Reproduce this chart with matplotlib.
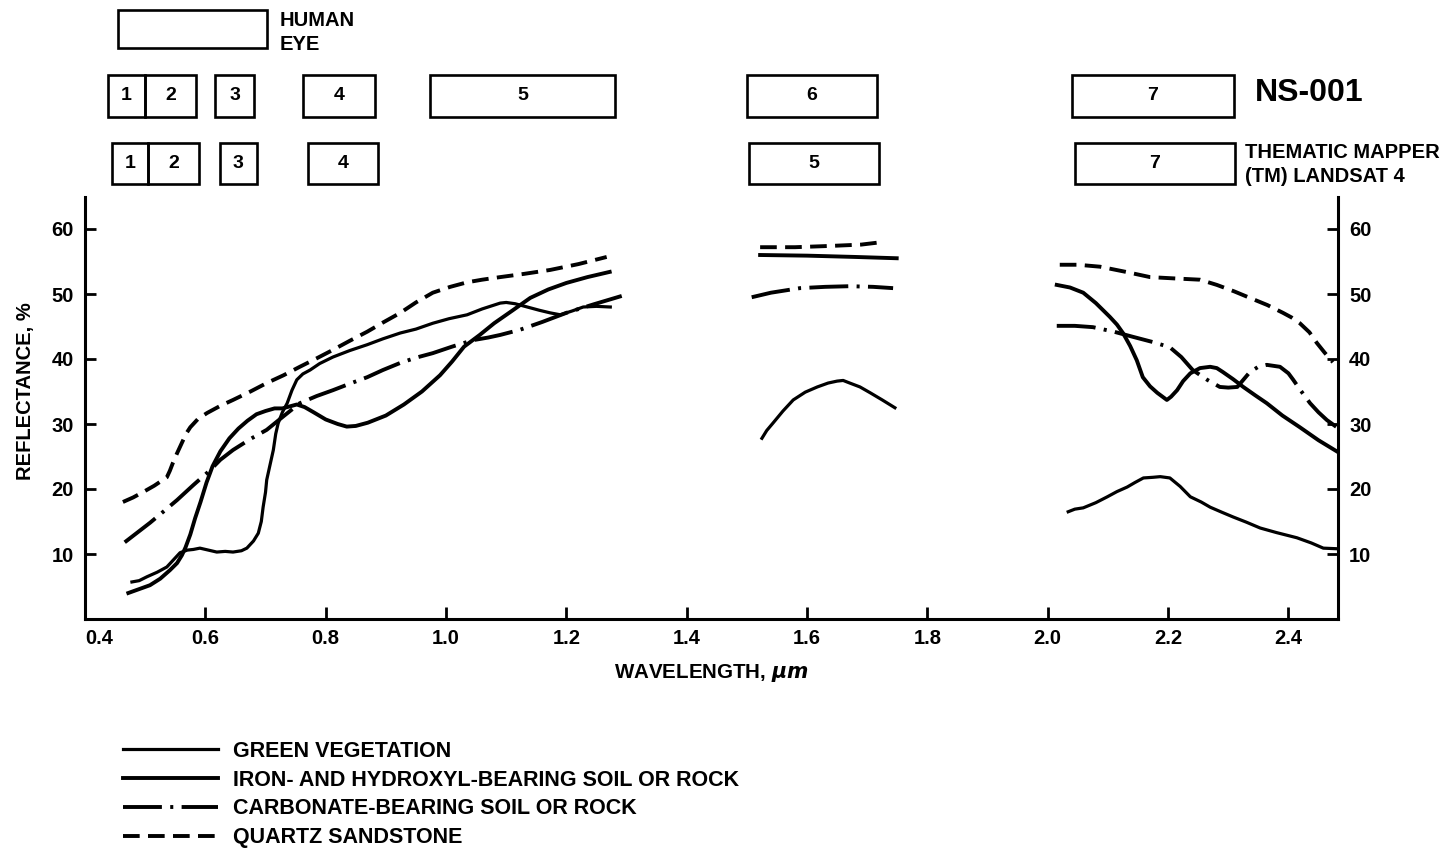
import matplotlib
matplotlib.use("Agg")
import matplotlib.pyplot as plt
import numpy as np
from matplotlib.patches import Rectangle

# ----------------------
# fonts / style
# ----------------------
plt.rcParams['font.family'] = ['Liberation Sans', 'DejaVu Sans']
plt.rcParams['font.weight'] = 'bold'
plt.rcParams['lines.scale_dashes'] = False
plt.rcParams['mathtext.default'] = 'it'

nan = np.nan

# ----------------------
# data; nan = gap in spectrum
# ----------------------
veg_x = [0.478, 0.49, 0.503, 0.52, 0.536, 0.548, 0.558, 0.570, 0.580, 0.591, 0.605, 0.619, 0.633,
         0.646, 0.660, 0.669, 0.680, 0.688, 0.693, 0.696, 0.700, 0.702, 0.707, 0.713, 0.717, 0.721,
         0.728, 0.736, 0.744, 0.752, 0.762, 0.774, 0.790, 0.812, 0.840, 0.869, 0.895, 0.924, 0.950,
         0.978, 1.005, 1.035, 1.060, 1.090, 1.100, 1.115, 1.135, 1.155, 1.173, 1.19, 1.21, 1.228,
         1.25, 1.273,
         nan,
         1.525, 1.533, 1.543, 1.56, 1.577, 1.597, 1.617, 1.635, 1.65, 1.66, 1.671, 1.688, 1.705,
         1.725, 1.746,
         nan,
         2.034, 2.045, 2.059, 2.08, 2.099, 2.115, 2.132, 2.145, 2.159, 2.175, 2.187, 2.203, 2.22,
         2.237, 2.255, 2.27, 2.29, 2.308, 2.33, 2.353, 2.38, 2.414, 2.438, 2.458, 2.483]
veg_y = [5.7, 5.9, 6.5, 7.2, 8.0, 9.2, 10.2, 10.6, 10.7, 10.9, 10.6, 10.3, 10.4,
         10.3, 10.5, 10.9, 12.0, 13.2, 15.0, 17.2, 19.5, 21.4, 23.5, 26.0, 28.5, 30.1,
         31.8, 33.2, 35.2, 36.8, 37.7, 38.3, 39.3, 40.3, 41.3, 42.2, 43.1, 44.0, 44.6,
         45.5, 46.2, 46.8, 47.7, 48.6, 48.7, 48.5, 48.0, 47.5, 47.1, 46.8, 47.4, 48.0,
         48.1, 48.0,
         nan,
         27.8, 29.0, 30.1, 32.0, 33.7, 34.9, 35.7, 36.3, 36.6, 36.7, 36.3, 35.7, 34.8,
         33.7, 32.5,
         nan,
         16.5, 16.9, 17.1, 17.9, 18.8, 19.6, 20.3, 21.0, 21.7, 21.8, 21.9, 21.7, 20.4,
         18.8, 18.0, 17.2, 16.4, 15.7, 14.9, 14.0, 13.3, 12.5, 11.7, 10.9, 10.8]

iron_x = [0.472, 0.49, 0.508, 0.525, 0.541, 0.553, 0.561, 0.567, 0.575, 0.583, 0.592, 0.602, 0.612,
          0.625, 0.64, 0.655, 0.67, 0.685, 0.70, 0.715, 0.728, 0.74, 0.752, 0.765, 0.78, 0.80,
          0.82, 0.835, 0.85, 0.87, 0.90, 0.93, 0.96, 0.99, 1.01, 1.03, 1.056, 1.08, 1.111, 1.14,
          1.17, 1.20, 1.235, 1.272,
          nan,
          1.522, 1.60, 1.68, 1.749,
          nan,
          2.015, 2.037, 2.059, 2.08, 2.103, 2.115, 2.125, 2.137, 2.148, 2.158, 2.17, 2.182, 2.198,
          2.205, 2.215, 2.225, 2.237, 2.253, 2.27, 2.281, 2.291, 2.308, 2.325, 2.345, 2.364, 2.39,
          2.419, 2.45, 2.482]
iron_y = [4.0, 4.6, 5.2, 6.2, 7.5, 8.6, 9.8, 11.0, 13.0, 15.5, 18.0, 21.0, 23.5,
          25.8, 27.8, 29.3, 30.5, 31.5, 32.0, 32.4, 32.4, 32.7, 33.0, 32.6, 31.8, 30.7,
          30.0, 29.6, 29.7, 30.2, 31.3, 33.0, 35.0, 37.5, 39.6, 41.9, 43.7, 45.5, 47.5, 49.4,
          50.7, 51.7, 52.6, 53.4,
          nan,
          56.0, 55.9, 55.7, 55.5,
          nan,
          51.4, 51.0, 50.2, 48.6, 46.5, 45.3, 44.0, 42.0, 39.8, 37.2, 35.8, 34.8, 33.7,
          34.2, 35.2, 36.6, 37.8, 38.6, 38.8, 38.6, 38.0, 36.9, 35.7, 34.4, 33.2, 31.3,
          29.5, 27.5, 25.7]

carb_x = [0.466, 0.487, 0.508, 0.53, 0.553, 0.58, 0.608, 0.625, 0.646, 0.675, 0.702, 0.73, 0.757,
          0.785, 0.812, 0.84, 0.869, 0.895, 0.924, 0.95, 0.978, 1.01, 1.045, 1.07, 1.09, 1.123,
          1.16, 1.20, 1.245, 1.292,
          nan,
          1.508, 1.54, 1.588, 1.63, 1.671, 1.71, 1.743,
          nan,
          2.015, 2.045, 2.075, 2.11, 2.142, 2.175, 2.203, 2.222, 2.241, 2.265, 2.286, 2.30, 2.315,
          2.326, 2.336, 2.35, 2.364, 2.386, 2.40, 2.408, 2.42, 2.436, 2.45, 2.464, 2.482]
carb_y = [11.8, 13.3, 14.8, 16.5, 18.3, 20.6, 22.9, 24.5, 26.0, 27.7, 29.1, 31.2, 33.2,
          34.3, 35.2, 36.2, 37.2, 38.3, 39.4, 40.2, 40.9, 41.9, 42.9, 43.3, 43.7, 44.5,
          45.7, 47.1, 48.4, 49.7,
          nan,
          49.5, 50.2, 50.9, 51.1, 51.2, 51.1, 50.9,
          nan,
          45.1, 45.1, 44.9, 44.2, 43.4, 42.6, 41.8, 40.3, 38.3, 36.8, 35.7, 35.6, 35.7,
          36.9, 38.0, 38.8, 39.1, 38.8, 37.8, 36.8, 35.2, 33.2, 31.8, 30.6, 29.4]

quartz_x = [0.463, 0.48, 0.496, 0.515, 0.536, 0.541, 0.546, 0.553, 0.561, 0.568, 0.575, 0.588,
            0.603, 0.625, 0.646, 0.675, 0.702, 0.73, 0.757, 0.785, 0.812, 0.84, 0.869, 0.895,
            0.924, 0.95, 0.978, 1.007, 1.035, 1.06, 1.09, 1.13, 1.173, 1.22, 1.267,
            nan,
            1.522, 1.58, 1.64, 1.69, 1.726,
            nan,
            2.02, 2.05, 2.087, 2.13, 2.17, 2.21, 2.253, 2.281, 2.31, 2.336, 2.365, 2.391, 2.405,
            2.419, 2.435, 2.447, 2.46, 2.474]
quartz_y = [18.0, 18.7, 19.5, 20.5, 21.8, 22.8, 24.0, 25.5, 27.1, 28.5, 29.5, 30.8,
            31.7, 32.8, 33.7, 35.0, 36.3, 37.5, 38.8, 40.1, 41.4, 42.8, 44.2, 45.6,
            47.1, 48.7, 50.2, 51.1, 51.8, 52.2, 52.6, 53.1, 53.7, 54.6, 55.7,
            nan,
            57.2, 57.2, 57.4, 57.6, 58.0,
            nan,
            54.5, 54.5, 54.2, 53.4, 52.6, 52.4, 52.2, 51.4, 50.4, 49.4, 48.3, 47.1, 46.4,
            45.5, 44.1, 42.5, 41.0, 39.5]

series_labels = ["GREEN VEGETATION",
                 "IRON- AND HYDROXYL-BEARING SOIL OR ROCK",
                 "CARBONATE-BEARING SOIL OR ROCK",
                 "QUARTZ SANDSTONE"]

x_ticks = [0.4, 0.6, 0.8, 1.0, 1.2, 1.4, 1.6, 1.8, 2.0, 2.2, 2.4]
y_ticks = [10, 20, 30, 40, 50, 60]

# band boxes (wavelength edges, as drawn)
eye_band = (0.455, 0.702)
ns_bands = [(0.438, 0.500, "1"), (0.500, 0.584, "2"), (0.616, 0.681, "3"), (0.762, 0.882, "4"),
            (0.973, 1.281, "5"), (1.500, 1.716, "6"), (2.040, 2.310, "7")]
tm_bands = [(0.445, 0.505, "1"), (0.505, 0.589, "2"), (0.624, 0.686, "3"), (0.771, 0.887, "4"),
            (1.504, 1.720, "5"), (2.045, 2.311, "7")]

# ----------------------
# figure
# ----------------------
W, H = 1451, 849
fig = plt.figure(figsize=(W / 100, H / 100), dpi=100)
ax = fig.add_axes([85 / W, 1 - 619 / H, 1253 / W, 422.5 / H])
xlim = (0.40, 2.4824)

lw = 2.8
ax.plot(veg_x, veg_y, color="black", lw=2.3, label=series_labels[0])
ax.plot(iron_x, iron_y, color="black", lw=lw, label=series_labels[1])
ax.plot(carb_x, carb_y, color="black", lw=lw, dashes=(28, 6, 2.2, 6), label=series_labels[2])
ax.plot(quartz_x, quartz_y, color="black", lw=lw, dashes=(12, 6), label=series_labels[3])

ax.set_xlim(*xlim)
ax.set_ylim(0, 65)
ax.spines['top'].set_visible(False)
for s in ['left', 'right', 'bottom']:
    ax.spines[s].set_linewidth(2.2)

ax.set_xticks(x_ticks)
ax.set_xticklabels([f"{v:.1f}" for v in x_ticks])
ax.set_yticks(y_ticks)
ax.tick_params(axis='x', direction='in', length=9, width=2, pad=7, labelsize=14.5)
ax.tick_params(axis='y', direction='in', length=8, width=2, pad=8, labelsize=14.5,
               right=True, labelright=True)
ax.get_xticklabels()[0].set_horizontalalignment('left')

fig.text(25 / W, 1 - 391 / H, "REFLECTANCE, %", rotation=90, ha='center', va='center',
         fontsize=14.5)
fig.text(711 / W, 1 - 673 / H, r"WAVELENGTH, $\mu m$", ha='center', va='center', fontsize=14.8)

leg = ax.legend(loc='upper left', bbox_to_anchor=(123 / W, 1 - 741 / H),
                bbox_transform=fig.transFigure, frameon=False, fontsize=15.5,
                handlelength=4.4, handletextpad=0.72, labelspacing=0.36, borderpad=0,
                borderaxespad=0)

# ----------------------
# band boxes on top (x shares wavelength scale, y in pixels from top)
# ----------------------
bx = fig.add_axes([85 / W, 1 - 196 / H, 1253 / W, 196 / H])
bx.set_xlim(*xlim)
bx.set_ylim(196, 0)
bx.axis('off')


def draw_box(x0, x1, top, bottom, label=None, fs=14):
    bx.add_patch(Rectangle((x0, top), x1 - x0, bottom - top, fill=False,
                           lw=1.9, edgecolor='black', clip_on=False))
    if label:
        bx.text((x0 + x1) / 2, (top + bottom) / 2, label, ha='center', va='center',
                fontsize=fs)


draw_box(eye_band[0], eye_band[1], 10, 48)
bx.text(0.724, 20, "HUMAN", ha='left', va='center', fontsize=14.5)
bx.text(0.724, 44, "EYE", ha='left', va='center', fontsize=14.5)

for x0, x1, lab in ns_bands:
    draw_box(x0, x1, 75, 117, lab)
for x0, x1, lab in tm_bands:
    draw_box(x0, x1, 143, 184, lab)

bx.text(2.345, 93, "NS-001", ha='left', va='center', fontsize=23)
bx.text(2.328, 152, "THEMATIC MAPPER", ha='left', va='center', fontsize=14.5)
bx.text(2.328, 177, "(TM) LANDSAT 4", ha='left', va='center', fontsize=14.5)

fig.savefig("out.png", dpi=100)
